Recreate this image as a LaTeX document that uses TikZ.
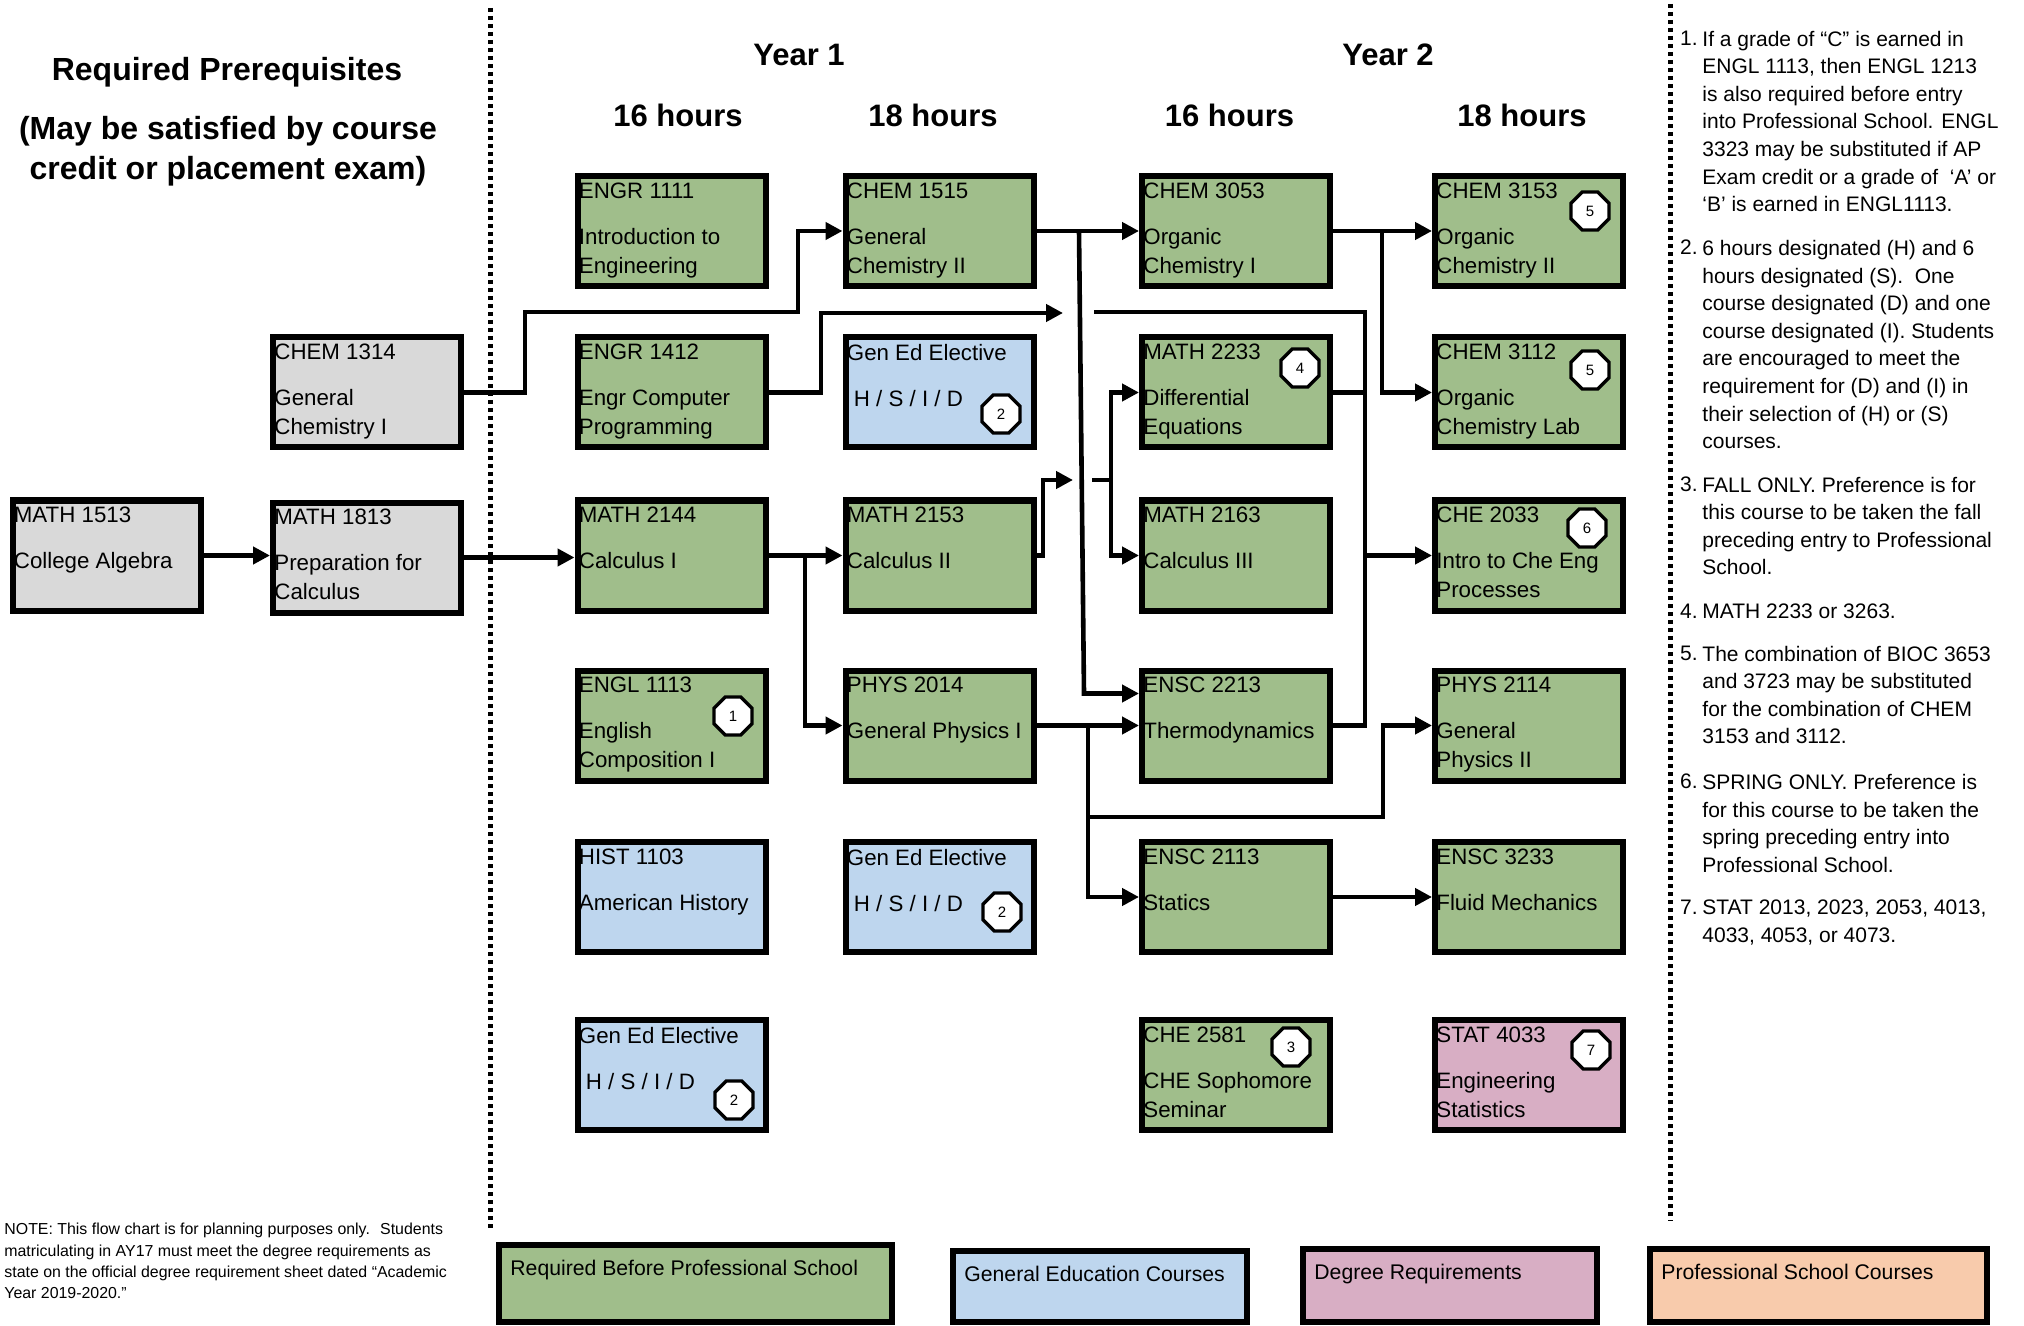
\documentclass[tikz,border=0pt]{standalone}
\usepackage{fontspec}
\setmainfont{Liberation Sans}
\usetikzlibrary{arrows.meta,shapes.geometric}
\definecolor{reqgreen}{RGB}{160,190,139}
\definecolor{genblue}{RGB}{190,214,238}
\definecolor{degpink}{RGB}{216,174,196}
\definecolor{profpeach}{RGB}{248,203,172}
\definecolor{prereqgray}{RGB}{217,217,217}
\begin{document}
\begin{tikzpicture}[x=0.5pt,y=-0.5pt,
		course/.style={draw, line width=3pt, minimum width=94pt, minimum height=55pt, inner sep=0pt},
		ctext/.style={anchor=north west, inner sep=0pt, align=left, xshift=2pt, yshift=-4.75pt, font=\fontsize{11.15}{14.5}\selectfont},
		flow/.style={line width=2.3pt, -{Triangle[length=8.5pt,width=8.5pt]}},
		link/.style={line width=2.3pt},
		badge/.style={draw, fill=white, line width=1.65pt, regular polygon, regular polygon sides=8, minimum size=20.5pt, inner sep=0pt, font=\fontsize{7.5}{8}\selectfont},
		divider/.style={line width=2.15pt, dash pattern=on 2.15pt off 1.85pt},
		heading/.style={anchor=base, font=\fontsize{15.5}{18}\selectfont\bfseries},
		notetext/.style={anchor=north west, inner sep=0pt, align=left, font=\fontsize{10.5}{13.8}\selectfont},
		notenum/.style={anchor=north east, inner sep=0pt, font=\fontsize{10.5}{13.8}\selectfont},
		legend/.style={draw, line width=3pt, anchor=north west, inner sep=0pt},
		legtext/.style={anchor=north west, inner sep=0pt, xshift=7pt, yshift=-8.75pt, font=\fontsize{10.6}{13}\selectfont}]
	\useasboundingbox (0,0) rectangle (2024,1326);

	\draw[divider] (490.6,8) -- (490.6,1230);
	\draw[divider] (1670.5,4) -- (1670.5,1221);

	\node[anchor=base, font=\fontsize{16}{20}\selectfont\bfseries] (prereqhead) at (227,81) {Required Prerequisites};
	\node[anchor=north, align=center, inner sep=0pt, font=\fontsize{16}{20}\selectfont\bfseries] (prereqsub) at (228,116) {(May be satisfied by course\\credit or placement exam)};
	\node[heading] (year1) at (799,65.5) {Year 1};
	\node[heading] (year2) at (1388,65.5) {Year 2};
	\node[heading] (hoursA) at (678,127) {16 hours};
	\node[heading] (hoursB) at (933,127) {18 hours};
	\node[heading] (hoursC) at (1229.5,127) {16 hours};
	\node[heading] (hoursD) at (1522,127) {18 hours};

	\node[course, fill=prereqgray] (math1513) at (106.5,555.5) {};
	\node[ctext] (math1513t) at (math1513.north west) {MATH 1513\\[8.5pt]College Algebra};
	\node[course, fill=prereqgray] (chem1314) at (367,392.5) {};
	\node[ctext] (chem1314t) at (chem1314.north west) {CHEM 1314\\[8.5pt]General\\Chemistry I};
	\node[course, fill=prereqgray] (math1813) at (367,557.5) {};
	\node[ctext] (math1813t) at (math1813.north west) {MATH 1813\\[8.5pt]Preparation for\\Calculus};

	\node[course, fill=reqgreen] (engr1111) at (671.5,231) {};
	\node[ctext] (engr1111t) at (engr1111.north west) {ENGR 1111\\[8.5pt]Introduction to\\Engineering};
	\node[course, fill=reqgreen] (engr1412) at (671.5,392.5) {};
	\node[ctext] (engr1412t) at (engr1412.north west) {ENGR 1412\\[8.5pt]Engr Computer\\Programming};
	\node[course, fill=reqgreen] (math2144) at (671.5,555.5) {};
	\node[ctext] (math2144t) at (math2144.north west) {MATH 2144\\[8.5pt]Calculus I};
	\node[course, fill=reqgreen] (engl1113) at (671.5,725.5) {};
	\node[ctext] (engl1113t) at (engl1113.north west) {ENGL 1113\\[8.5pt]English\\Composition I};
	\node[course, fill=genblue] (hist1103) at (671.5,897) {};
	\node[ctext] (hist1103t) at (hist1103.north west) {HIST 1103\\[8.5pt]American History};
	\node[course, fill=genblue] (genedA) at (671.5,1075) {};
	\node[ctext] (genedAt) at (genedA.north west) {Gen Ed Elective\\[8.5pt]\hspace{3.5pt}H / S / I / D};

	\node[course, fill=reqgreen] (chem1515) at (939.5,231) {};
	\node[ctext] (chem1515t) at (chem1515.north west) {CHEM 1515\\[8.5pt]General\\Chemistry II};
	\node[course, fill=genblue] (genedB) at (939.5,392.5) {};
	\node[ctext] (genedBt) at (genedB.north west) {Gen Ed Elective\\[8.5pt]\hspace{3.5pt}H / S / I / D};
	\node[course, fill=reqgreen] (math2153) at (939.5,555.5) {};
	\node[ctext] (math2153t) at (math2153.north west) {MATH 2153\\[8.5pt]Calculus II};
	\node[course, fill=reqgreen] (phys2014) at (939.5,725.5) {};
	\node[ctext] (phys2014t) at (phys2014.north west) {PHYS 2014\\[8.5pt]General Physics I};
	\node[course, fill=genblue] (genedC) at (939.5,897) {};
	\node[ctext] (genedCt) at (genedC.north west) {Gen Ed Elective\\[8.5pt]\hspace{3.5pt}H / S / I / D};

	\node[course, fill=reqgreen] (chem3053) at (1236,231) {};
	\node[ctext] (chem3053t) at (chem3053.north west) {CHEM 3053\\[8.5pt]Organic\\Chemistry I};
	\node[course, fill=reqgreen] (math2233) at (1236,392.5) {};
	\node[ctext] (math2233t) at (math2233.north west) {MATH 2233\\[8.5pt]Differential\\Equations};
	\node[course, fill=reqgreen] (math2163) at (1236,555.5) {};
	\node[ctext] (math2163t) at (math2163.north west) {MATH 2163\\[8.5pt]Calculus III};
	\node[course, fill=reqgreen] (ensc2213) at (1236,725.5) {};
	\node[ctext] (ensc2213t) at (ensc2213.north west) {ENSC 2213\\[8.5pt]Thermodynamics};
	\node[course, fill=reqgreen] (ensc2113) at (1236,897) {};
	\node[ctext] (ensc2113t) at (ensc2113.north west) {ENSC 2113\\[8.5pt]Statics};
	\node[course, fill=reqgreen] (che2581) at (1236,1075) {};
	\node[ctext] (che2581t) at (che2581.north west) {CHE 2581\\[8.5pt]CHE Sophomore\\Seminar};

	\node[course, fill=reqgreen] (chem3153) at (1529,231) {};
	\node[ctext] (chem3153t) at (chem3153.north west) {CHEM 3153\\[8.5pt]Organic\\Chemistry II};
	\node[course, fill=reqgreen] (chem3112) at (1529,392.5) {};
	\node[ctext] (chem3112t) at (chem3112.north west) {CHEM 3112\\[8.5pt]Organic\\Chemistry Lab};
	\node[course, fill=reqgreen] (che2033) at (1529,555.5) {};
	\node[ctext] (che2033t) at (che2033.north west) {CHE 2033\\[8.5pt]Intro to Che Eng\\Processes};
	\node[course, fill=reqgreen] (phys2114) at (1529,725.5) {};
	\node[ctext] (phys2114t) at (phys2114.north west) {PHYS 2114\\[8.5pt]General\\Physics II};
	\node[course, fill=reqgreen] (ensc3233) at (1529,897) {};
	\node[ctext] (ensc3233t) at (ensc3233.north west) {ENSC 3233\\[8.5pt]Fluid Mechanics};
	\node[course, fill=degpink] (stat4033) at (1529,1075) {};
	\node[ctext] (stat4033t) at (stat4033.north west) {STAT 4033\\[8.5pt]Engineering\\Statistics};

	\node[badge] (badge1) at (733,716) {1};
	\node[badge] (badge2a) at (734,1100) {2};
	\node[badge] (badge2b) at (1001,414) {2};
	\node[badge] (badge2c) at (1002,912) {2};
	\node[badge] (badge4) at (1300,368) {4};
	\node[badge] (badge5a) at (1590,211) {5};
	\node[badge] (badge5b) at (1590,370) {5};
	\node[badge] (badge6) at (1587,528) {6};
	\node[badge] (badge3) at (1291,1047) {3};
	\node[badge] (badge7) at (1591,1050) {7};

	\coordinate (gapA) at (1063,313);
	\coordinate (gapAout) at (1094,312);
	\coordinate (gapB) at (1073,480);
	\coordinate (gapBout) at (1092,480);

	\draw[flow] (math1513.east) -- (math1513.east -| math1813.west);
	\draw[flow] (math1813.east) -- (math1813.east -| math2144.west);
	\draw[flow] (chem1314.east) -| (525,312) -- (798,312) |- (chem1515.west);

	\draw[flow] (engr1412.east) -| (821,313) -- (gapA);
	\draw[flow] (math2144.east) -- (math2153.west);
	\draw[flow] (805,555.5) |- (phys2014.west);
	\draw[flow] (math2153.east) -| (1043,480) -- (gapB);
	\draw[flow] (chem1515.east) -- (chem3053.west);
	\draw[flow] (1079,231) -- (1084,693.5) -- ([yshift=16pt]ensc2213.west);
	\draw[flow] (phys2014.east) -- (ensc2213.west);
	\draw[flow] (1088,725.5) |- (ensc2113.west);
	\draw[flow] (1088,817) -- (1383,817) |- (phys2114.west);

	\draw[link] (gapBout) -- (1111,480);
	\draw[flow] (1111,480) |- (math2233.west);
	\draw[flow] (1111,480) |- (math2163.west);
	\draw[link] (gapAout) -| (1365,725.5) -- (ensc2213.east);
	\draw[link] (math2233.east) -- (1365,392.5);
	\draw[flow] (1365,555.5) -- (che2033.west);
	\draw[flow] (chem3053.east) -- (chem3153.west);
	\draw[flow] (1382,231) |- (chem3112.west);
	\draw[flow] (ensc2113.east) -- (ensc3233.west);

	\node[notetext] (note1) at (1702,30.4) {If a grade of “C” is earned in\\ENGL 1113, then ENGL 1213\\is also required before entry\\into Professional School. ENGL\\3323 may be substituted if AP\\Exam credit or a grade of \ ‘A’ or\\‘B’ is earned in ENGL1113.};
	\node[notenum] (num1) at (1698,30.4) {1.};
	\node[notetext] (note2) at (1702,239.8) {6 hours designated (H) and 6\\hours designated (S). \ One\\course designated (D) and one\\course designated (I). Students\\are encouraged to meet the\\requirement for (D) and (I) in\\their selection of (H) or (S)\\courses.};
	\node[notenum] (num2) at (1698,239.8) {2.};
	\node[notetext] (note3) at (1702,476.4) {FALL ONLY. Preference is for\\this course to be taken the fall\\preceding entry to Professional\\School.};
	\node[notenum] (num3) at (1698,476.4) {3.};
	\node[notetext] (note4) at (1702,603.4) {MATH 2233 or 3263.};
	\node[notenum] (num4) at (1698,603.4) {4.};
	\node[notetext] (note5) at (1702,645.4) {The combination of BIOC 3653\\and 3723 may be substituted\\for the combination of CHEM\\3153 and 3112.};
	\node[notenum] (num5) at (1698,645.4) {5.};
	\node[notetext] (note6) at (1702,773.8) {SPRING ONLY. Preference is\\for this course to be taken the\\spring preceding entry into\\Professional School.};
	\node[notenum] (num6) at (1698,773.8) {6.};
	\node[notetext] (note7) at (1702,899.4) {STAT 2013, 2023, 2053, 4013,\\4033, 4053, or 4073.};
	\node[notenum] (num7) at (1698,899.4) {7.};

	\node[anchor=north west, inner sep=0pt, align=left, font=\fontsize{7.95}{10.6}\selectfont] (disclaimer) at (4,1223) {NOTE: This flow chart is for planning purposes only. \ Students\\matriculating in AY17 must meet the degree requirements as\\state on the official degree requirement sheet dated “Academic\\Year 2019-2020.”};

	\node[legend, fill=reqgreen, minimum width=196.5pt, minimum height=38.5pt] (legreq) at (496,1242) {};
	\node[legtext] (legreqt) at (legreq.north west) {Required Before Professional School};
	\node[legend, fill=genblue, minimum width=147pt, minimum height=35.5pt] (leggen) at (950,1248) {};
	\node[legtext] (leggent) at (leggen.north west) {General Education Courses};
	\node[legend, fill=degpink, minimum width=147pt, minimum height=36.5pt] (legdeg) at (1300,1246) {};
	\node[legtext] (legdegt) at (legdeg.north west) {Degree Requirements};
	\node[legend, fill=profpeach, minimum width=168.5pt, minimum height=36.5pt] (legprof) at (1647,1246) {};
	\node[legtext] (legproft) at (legprof.north west) {Professional School Courses};
\end{tikzpicture}
\end{document}
